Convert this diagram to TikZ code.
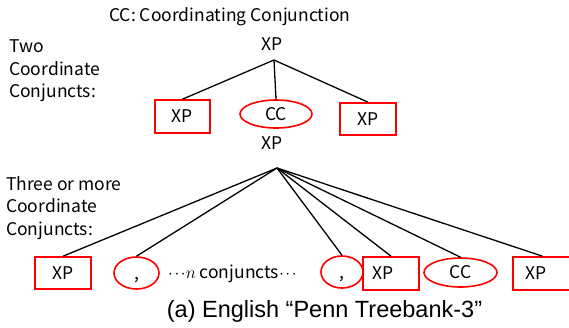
\documentclass[tikz,border=0pt]{standalone}
\usepackage{fontspec}
\setmainfont{Noto Sans CJK JP}
\newfontfamily\capfont{Liberation Sans}
\usetikzlibrary{shapes.geometric}

% three centred dots set close together
\newcommand\middots{\ensuremath{\mathord{\cdot}\kern1.6pt\mathord{\cdot}\kern1.6pt\mathord{\cdot}}}

\begin{document}
\begin{tikzpicture}[x=1pt,y=-1pt,
  every node/.style={font=\fontsize{17.5}{22.3}\selectfont, inner sep=0pt},
  label text/.style={text height=12.6pt, text depth=0pt},
  box/.style={draw=red, line width=1.6pt, label text},
  oval/.style={draw=red, ellipse, line width=1.6pt, label text},
  branch/.style={line width=1.3pt}]
\useasboundingbox (0,0) rectangle (569,327);

% heading and row labels
\node[anchor=base] (title) at (230,21.5) {CC: Coordinating Conjunction};
\node[anchor=base west, align=left] (two) at (9,97.5) {Two\\Coordinate\\Conjuncts:};
\node[anchor=base west, align=left] (three) at (6,235) {Three or more\\Coordinate\\Conjuncts:};

% two conjuncts
\node[anchor=base] (xpA) at (272,50) {XP};
\coordinate (jA) at (274,60);
\node[box, minimum width=55pt, minimum height=33pt] (a1) at (182.5,116.5) {XP};
\node[oval, minimum width=72pt, minimum height=28pt] (a2) at (276,114) {CC};
\node[box, minimum width=56pt, minimum height=32pt] (a3) at (368,119) {XP};
\foreach \n in {a1,a2,a3} \draw[branch] (jA) -- (\n.north);

% three or more conjuncts
\node[anchor=base] (xpB) at (272,149) {XP};
\coordinate (jB) at (277,168);
\node[box, minimum width=56pt, minimum height=32pt] (b1) at (63,273) {XP};
\node[oval, minimum width=45pt, minimum height=32pt] (b2) at (136.5,273) {,};
\node[anchor=base west] (dots) at (168,278) {\middots$n$ conjuncts\middots};
\node[oval, minimum width=42pt, minimum height=32pt] (b3) at (342,272) {,};
\node[box, minimum height=33pt, text width=38pt, inner xsep=9pt, align=left] (b4) at (391,273.5) {XP};
\node[oval, minimum width=73pt, minimum height=29pt] (b5) at (460.5,272.5) {CC};
\node[box, minimum height=33pt, text width=35pt, inner xsep=12pt, align=left] (b6) at (542.5,273.5) {XP};
\foreach \n in {b1,b2,b3,b4,b5,b6} \draw[branch] (jB) -- (\n.north);

% caption
\node[anchor=base, font=\capfont\fontsize{23.5}{28}\selectfont] (cap) at (324.5,317) {(a) English “Penn Treebank-3”};
\end{tikzpicture}
\end{document}
